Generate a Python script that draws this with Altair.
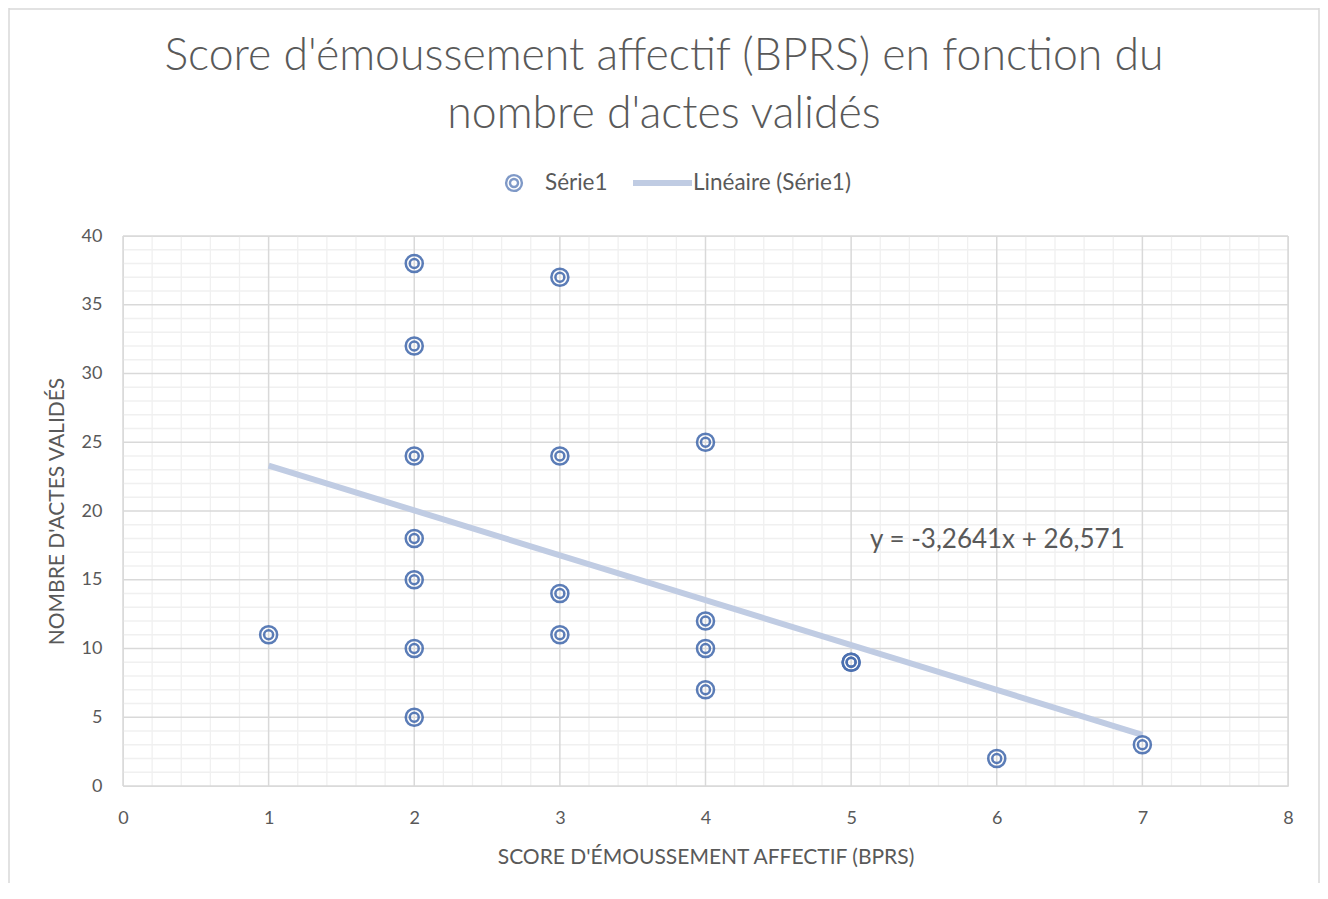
import altair as alt
import pandas as pd

# ---- data ----
score_bprs = [1, 2, 2, 2, 2, 2, 2, 2, 3, 3, 3, 3, 4, 4, 4, 4, 5, 5, 6, 7]
actes_valides = [11, 38, 32, 24, 18, 15, 10, 5, 37, 24, 14, 11, 25, 12, 10, 7, 9, 9, 2, 3]

x_major = [0, 1, 2, 3, 4, 5, 6, 7, 8]
y_major = [0, 5, 10, 15, 20, 25, 30, 35, 40]
x_minor = [round(i * 0.2, 1) for i in range(41) if i % 5 != 0]
y_minor = [i for i in range(41) if i % 5 != 0]

title_lines = ["Score d'émoussement affectif (BPRS) en fonction du", "nombre d'actes validés"]
equation = "y = -3,2641x + 26,571"
legend_labels = ["Série1", "Linéaire (Série1)"]

FONT = "Lato"
MARK = "#4A6FB0"
TREND = "#C0CCE3"
GRID_MAJOR = "#D9D9D9"
GRID_MINOR = "#F0F0F0"
TXT = "#595959"

W, H = 1165, 550

df = pd.DataFrame({"x": score_bprs, "y": actes_valides})

xs = alt.Scale(domain=[0, 8], nice=False, zero=False)
ys = alt.Scale(domain=[0, 40], nice=False, zero=False)

x_axis = alt.Axis(values=x_major, grid=False, ticks=False, domain=False, labelFlush=False,
                  labelFont=FONT, labelFontSize=18, labelColor=TXT, labelPadding=23,
                  title="SCORE D'ÉMOUSSEMENT AFFECTIF (BPRS)", titleFont=FONT,
                  titleFontSize=21, titleColor=TXT, titleFontWeight="normal",
                  titleX=W / 2, titleY=71, titleBaseline="middle")
y_axis = alt.Axis(values=y_major, grid=False, ticks=False, domain=False, labelFlush=False,
                  labelFont=FONT, labelFontSize=18, labelColor=TXT, labelPadding=21,
                  title="NOMBRE D'ACTES VALIDÉS", titleFont=FONT,
                  titleFontSize=21, titleColor=TXT, titleFontWeight="normal",
                  titleX=-66, titleY=H / 2, titleBaseline="middle", titleAngle=-90)

X = lambda f: alt.X(f, scale=xs, axis=x_axis)
Y = lambda f: alt.Y(f, scale=ys, axis=y_axis)

minor_x = alt.Chart(pd.DataFrame({"v": x_minor})).mark_rule(color=GRID_MINOR, strokeWidth=1.3).encode(
    x=X("v:Q"))
minor_y = alt.Chart(pd.DataFrame({"v": y_minor})).mark_rule(color=GRID_MINOR, strokeWidth=1.3).encode(
    y=Y("v:Q"))
major_x = alt.Chart(pd.DataFrame({"v": x_major})).mark_rule(color=GRID_MAJOR, strokeWidth=1.5).encode(
    x=X("v:Q"))
major_y = alt.Chart(pd.DataFrame({"v": y_major})).mark_rule(color=GRID_MAJOR, strokeWidth=1.5).encode(
    y=Y("v:Q"))

trend = alt.Chart(df).transform_regression("x", "y", method="linear").mark_line(
    color=TREND, strokeWidth=6).encode(x=X("x:Q"), y=Y("y:Q"))

outer = alt.Chart(df).mark_point(shape="circle", filled=False, size=290, color=MARK,
                                 strokeWidth=2.5, opacity=0.9).encode(x=X("x:Q"), y=Y("y:Q"))
inner = alt.Chart(df).mark_point(shape="circle", filled=False, size=80, color=MARK,
                                 strokeWidth=2.5, opacity=0.9).encode(x=X("x:Q"), y=Y("y:Q"))

eq = alt.Chart(pd.DataFrame({"t": [equation]})).mark_text(
    font=FONT, fontSize=26, color=TXT, align="left", baseline="middle").encode(
    x=alt.value(747), y=alt.value(304), text="t:N")

title1 = alt.Chart(pd.DataFrame({"t": [title_lines[0]]})).mark_text(
    font=FONT, fontSize=44.6, fontWeight=300, color=TXT, align="center", baseline="middle").encode(
    x=alt.value(541), y=alt.value(-179), text="t:N")
title2 = alt.Chart(pd.DataFrame({"t": [title_lines[1]]})).mark_text(
    font=FONT, fontSize=44.6, fontWeight=300, color=TXT, align="center", baseline="middle").encode(
    x=alt.value(541), y=alt.value(-121), text="t:N")

leg_outer = alt.Chart(pd.DataFrame({"a": [0]})).mark_point(
    shape="circle", filled=False, size=250, color=MARK, strokeWidth=2.4).encode(
    x=alt.value(391), y=alt.value(-53))
leg_inner = alt.Chart(pd.DataFrame({"a": [0]})).mark_point(
    shape="circle", filled=False, size=65, color=MARK, strokeWidth=2.4).encode(
    x=alt.value(391), y=alt.value(-53))
leg_t1 = alt.Chart(pd.DataFrame({"t": [legend_labels[0]]})).mark_text(
    font=FONT, fontSize=22.5, color=TXT, align="left", baseline="middle").encode(
    x=alt.value(422), y=alt.value(-53), text="t:N")
leg_line = alt.Chart(pd.DataFrame({"a": [0]})).mark_rule(color=TREND, strokeWidth=6).encode(
    x=alt.value(510), x2=alt.value(569), y=alt.value(-53))
leg_t2 = alt.Chart(pd.DataFrame({"t": [legend_labels[1]]})).mark_text(
    font=FONT, fontSize=22.5, color=TXT, align="left", baseline="middle").encode(
    x=alt.value(570), y=alt.value(-53), text="t:N")

border_l = alt.Chart(pd.DataFrame({"a": [0]})).mark_rule(color="#D9D9D9", strokeWidth=1.5).encode(
    x=alt.value(-114), y=alt.value(-228), y2=alt.value(H + 110))
border_t = alt.Chart(pd.DataFrame({"a": [0]})).mark_rule(color="#D9D9D9", strokeWidth=1.5).encode(
    x=alt.value(-114), x2=alt.value(1196), y=alt.value(-227))
border_r = alt.Chart(pd.DataFrame({"a": [0]})).mark_rule(color="#D9D9D9", strokeWidth=1.5).encode(
    x=alt.value(1196), y=alt.value(-228), y2=alt.value(H + 110))

chart = alt.layer(
    minor_x, minor_y, major_x, major_y, trend, outer, inner, eq,
    title1, title2, leg_outer, leg_inner, leg_t1, leg_line, leg_t2,
    border_l, border_t, border_r
).properties(
    width=W, height=H,
    autosize=alt.AutoSizeParams(type="none"),
    padding={"left": 115, "top": 228, "right": 32, "bottom": 97},
).configure_view(stroke=None).configure(background="white")

chart.save("out.html", embed_options={"renderer": "svg", "actions": False})
